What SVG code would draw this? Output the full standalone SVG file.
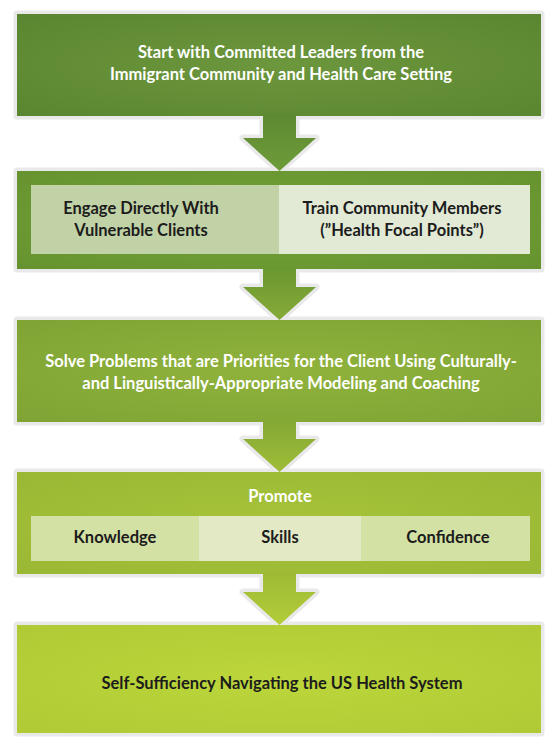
<svg xmlns="http://www.w3.org/2000/svg" width="559" height="750" viewBox="0 0 559 750">
  <defs>
    <radialGradient id="g1" cx="50%" cy="50%" r="70%"><stop offset="0" stop-color="#6c973d"/><stop offset="1" stop-color="#5b8631"/></radialGradient>
    <radialGradient id="g2" cx="50%" cy="50%" r="70%"><stop offset="0" stop-color="#74a238"/><stop offset="1" stop-color="#66932f"/></radialGradient>
    <radialGradient id="g3" cx="50%" cy="50%" r="70%"><stop offset="0" stop-color="#8fb33c"/><stop offset="1" stop-color="#80a434"/></radialGradient>
    <radialGradient id="g4" cx="50%" cy="50%" r="70%"><stop offset="0" stop-color="#a6c33a"/><stop offset="1" stop-color="#9ab834"/></radialGradient>
    <radialGradient id="g5" cx="50%" cy="50%" r="70%"><stop offset="0" stop-color="#bcd63b"/><stop offset="1" stop-color="#afca35"/></radialGradient>
    <linearGradient id="a1" x1="0" y1="0" x2="0" y2="1"><stop offset="0" stop-color="#5e8932"/><stop offset="1" stop-color="#6e9c38"/></linearGradient>
    <linearGradient id="a2" x1="0" y1="0" x2="0" y2="1"><stop offset="0" stop-color="#6a9731"/><stop offset="1" stop-color="#86aa37"/></linearGradient>
    <linearGradient id="a3" x1="0" y1="0" x2="0" y2="1"><stop offset="0" stop-color="#84a835"/><stop offset="1" stop-color="#9fbd38"/></linearGradient>
    <linearGradient id="a4" x1="0" y1="0" x2="0" y2="1"><stop offset="0" stop-color="#9dba35"/><stop offset="1" stop-color="#b2cd38"/></linearGradient>
  </defs>
  <style>
    .halo { fill: #e9e9e9; stroke: #e9e9e9; stroke-width: 7; stroke-linejoin: round; }
    .t { font-family: Lato, "Open Sans", "Liberation Sans", sans-serif; font-weight: 700; font-size: 16.5px; text-anchor: middle; }
    .w { fill: #ffffff; }
    .k { fill: #1c1c1c; }
  </style>

  <!-- halos (soft grey borders) -->
  <g id="halos">
    <rect class="halo" x="17" y="14" width="524" height="102"/>
    <rect class="halo" x="17" y="171" width="524" height="98"/>
    <rect class="halo" x="17" y="320" width="524" height="102"/>
    <rect class="halo" x="17" y="472" width="524" height="102"/>
    <rect class="halo" x="17" y="625" width="524" height="108"/>
    <path class="halo" d="M263,116 L296,116 L296,138 L316,138 L279.5,171 L243,138 L263,138 Z"/>
    <path class="halo" d="M263,269 L296,269 L296,287 L316,287 L279.5,320 L243,287 L263,287 Z"/>
    <path class="halo" d="M263,422 L296,422 L296,439 L316,439 L279.5,472 L243,439 L263,439 Z"/>
    <path class="halo" d="M263,574 L296,574 L296,592 L316,592 L279.5,625 L243,592 L263,592 Z"/>
  </g>

  <g id="node1">
    <rect x="17" y="14" width="524" height="102" fill="url(#g1)"/>
    <text class="t w" x="281" y="58">Start with Committed Leaders from the</text>
    <text class="t w" x="281" y="80">Immigrant Community and Health Care Setting</text>
  </g>

  <g id="node2">
    <rect x="17" y="171" width="524" height="98" fill="url(#g2)"/>
    <rect x="31" y="185" width="248" height="69" fill="#c1d2a6"/>
    <rect x="279" y="185" width="251" height="69" fill="#e2e9d5"/>
    <text class="t k" x="141" y="214">Engage Directly With</text>
    <text class="t k" x="141" y="236">Vulnerable Clients</text>
    <text class="t k" x="402" y="214">Train Community Members</text>
    <text class="t k" x="402" y="236">(”Health Focal Points”)</text>
  </g>

  <g id="node3">
    <rect x="17" y="320" width="524" height="102" fill="url(#g3)"/>
    <text class="t w" x="281" y="367">Solve Problems that are Priorities for the Client Using Culturally-</text>
    <text class="t w" x="281" y="389">and Linguistically-Appropriate Modeling and Coaching</text>
  </g>

  <g id="node4">
    <rect x="17" y="472" width="524" height="102" fill="url(#g4)"/>
    <text class="t w" x="280" y="502">Promote</text>
    <rect x="31" y="516" width="168" height="45" fill="#d4e1a5"/>
    <rect x="199" y="516" width="162" height="45" fill="#e2e9c4"/>
    <rect x="361" y="516" width="169" height="45" fill="#d4e1a5"/>
    <text class="t k" x="115" y="543">Knowledge</text>
    <text class="t k" x="280" y="543">Skills</text>
    <text class="t k" x="448" y="543">Confidence</text>
  </g>

  <g id="node5">
    <rect x="17" y="625" width="524" height="108" fill="url(#g5)"/>
    <text class="t k" x="282" y="689">Self-Sufficiency Navigating the US Health System</text>
  </g>

  <g id="connectors">
    <path fill="url(#a1)" d="M263,114 L296,114 L296,138 L316,138 L279.5,171 L243,138 L263,138 Z"/>
    <path fill="url(#a2)" d="M263,267 L296,267 L296,287 L316,287 L279.5,320 L243,287 L263,287 Z"/>
    <path fill="url(#a3)" d="M263,420 L296,420 L296,439 L316,439 L279.5,472 L243,439 L263,439 Z"/>
    <path fill="url(#a4)" d="M263,572 L296,572 L296,592 L316,592 L279.5,625 L243,592 L263,592 Z"/>
  </g>
</svg>
